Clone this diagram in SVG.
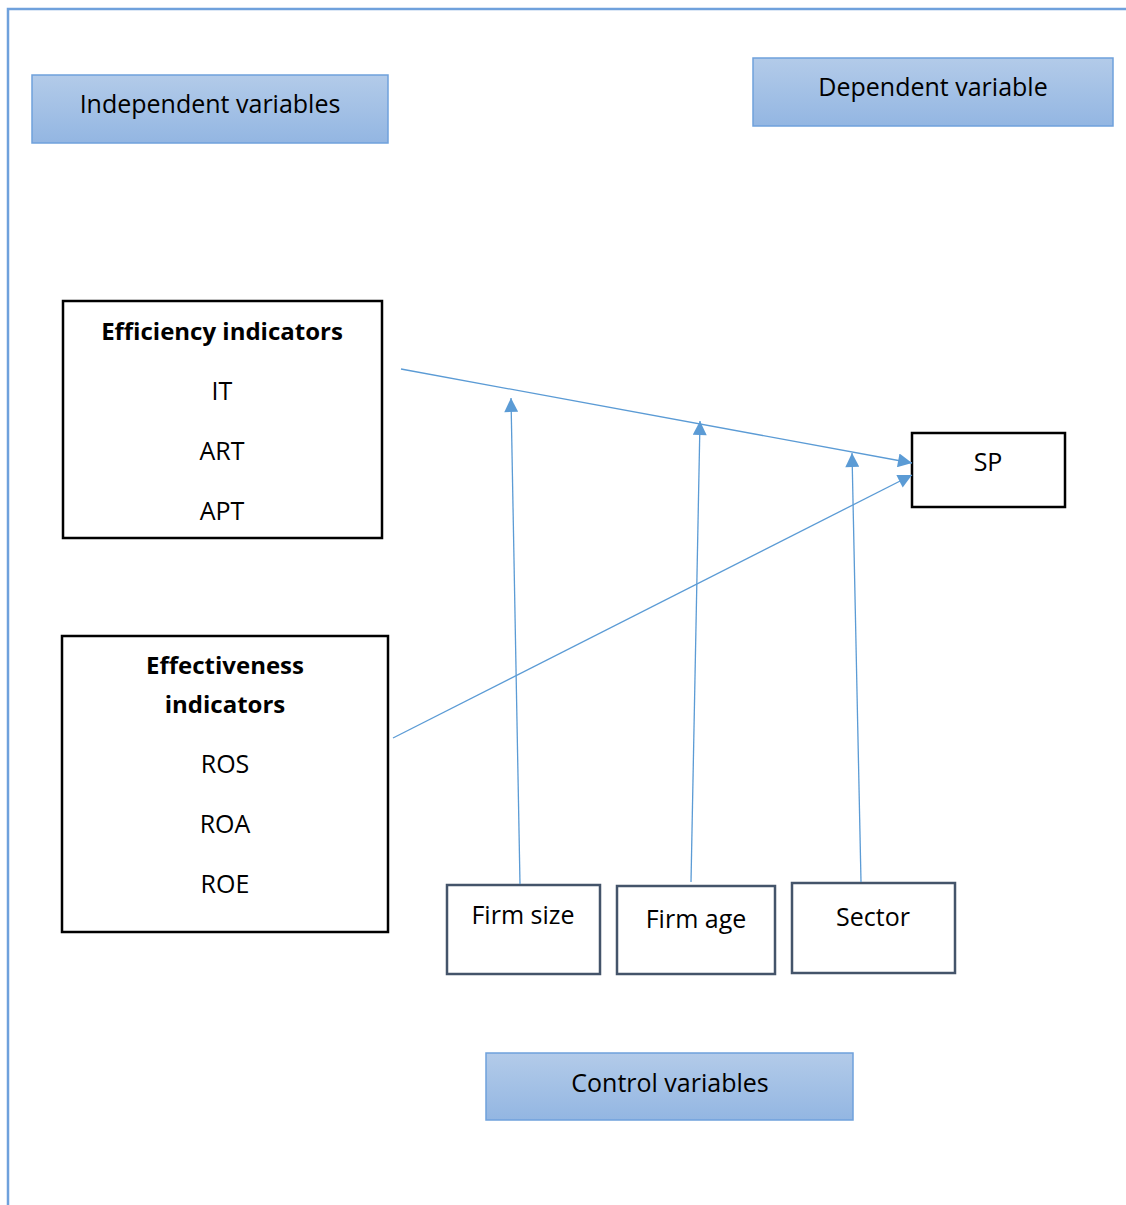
<svg xmlns="http://www.w3.org/2000/svg" width="1126" height="1205" viewBox="0 0 1126 1205">
<defs>
<linearGradient id="g" x1="0" y1="0" x2="0" y2="1">
<stop offset="0" stop-color="#b3cbe9"/>
<stop offset="1" stop-color="#93b6e2"/>
</linearGradient>
<marker id="ah" viewBox="0 0 10 10" refX="10" refY="5" markerWidth="16" markerHeight="14" orient="auto" markerUnits="userSpaceOnUse">
<path d="M0,0 L10,5 L0,10 Z" fill="#5b9bd5"/>
</marker>
<style>
.t{font-family:"Open Sans",Lato,"Liberation Sans",sans-serif;font-size:25px;fill:#000;text-anchor:middle}
.b{font-weight:bold;font-size:24px}
.hdr{fill:url(#g);stroke:#6fa1dc;stroke-width:1.5}
.blk{fill:#fff;stroke:#000;stroke-width:2.5}
.ctl{fill:#fff;stroke:#44546a;stroke-width:2.5}
.c{stroke:#5b9bd5;stroke-width:1.3;fill:none;marker-end:url(#ah)}
</style>
</defs>
<rect width="1126" height="1205" fill="#fff"/>
<path d="M8,1205 V9 H1126" fill="none" stroke="#6fa1dc" stroke-width="2.5"/>
<g id="independent"><rect class="hdr" x="32" y="75" width="356" height="68"/><text class="t" x="210" y="113">Independent variables</text></g>
<g id="dependent"><rect class="hdr" x="753" y="58" width="360" height="68"/><text class="t" x="933" y="96">Dependent variable</text></g>
<g id="control"><rect class="hdr" x="486" y="1053" width="367" height="67"/><text class="t" x="670" y="1092">Control variables</text></g>
<g id="efficiency"><rect class="blk" x="63" y="301" width="319" height="237"/>
<text class="t b" x="222" y="340">Efficiency indicators</text>
<text class="t" x="222" y="400">IT</text>
<text class="t" x="222" y="460">ART</text>
<text class="t" x="222" y="520">APT</text></g>
<g id="effectiveness"><rect class="blk" x="62" y="636" width="326" height="296"/>
<text class="t b" x="225" y="674">Effectiveness</text>
<text class="t b" x="225" y="713">indicators</text>
<text class="t" x="225" y="773">ROS</text>
<text class="t" x="225" y="833">ROA</text>
<text class="t" x="225" y="893">ROE</text></g>
<g id="sp"><rect class="blk" x="912" y="433" width="153" height="74"/><text class="t" x="988" y="471">SP</text></g>
<g id="firmsize"><rect class="ctl" x="447" y="885" width="153" height="89"/><text class="t" x="523" y="924">Firm size</text></g>
<g id="firmage"><rect class="ctl" x="617" y="886" width="158" height="88"/><text class="t" x="696" y="928">Firm age</text></g>
<g id="sector"><rect class="ctl" x="792" y="883" width="163" height="90"/><text class="t" x="873" y="926">Sector</text></g>
<g id="connectors">
<line class="c" x1="401" y1="369" x2="912" y2="463"/>
<line class="c" x1="393" y1="738" x2="912" y2="475"/>
<line class="c" x1="520" y1="884" x2="511" y2="398"/>
<line class="c" x1="691" y1="882" x2="700" y2="421"/>
<line class="c" x1="861" y1="882" x2="852" y2="453"/>
</g>
</svg>
